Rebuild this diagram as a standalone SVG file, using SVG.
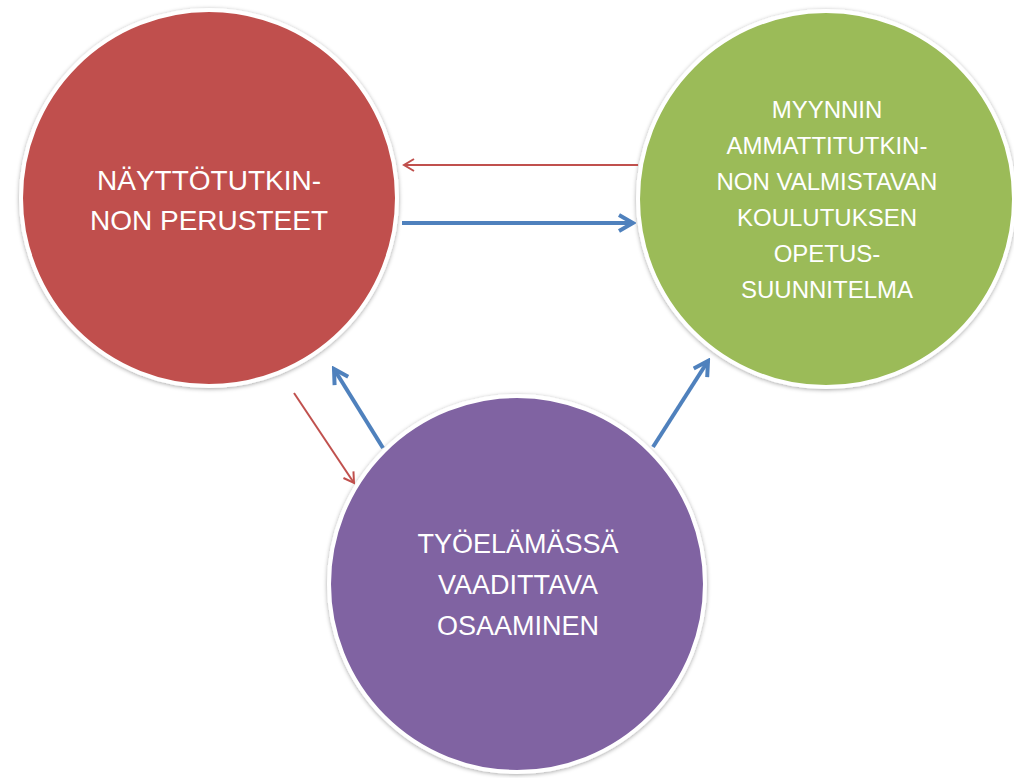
<svg xmlns="http://www.w3.org/2000/svg" width="1014" height="778" viewBox="0 0 1014 778">
<style>
.node circle{stroke:#ffffff;stroke-width:4;filter:url(#sh)}
.lbl{font-family:"Liberation Sans",Arial,sans-serif;fill:#ffffff;text-anchor:middle}
.red{stroke:#C0504D;stroke-width:2;fill:none}
.blue{stroke:#4F81BD;stroke-width:4;fill:none}
</style>
<defs>
<filter id="sh" x="-10%" y="-10%" width="120%" height="120%">
<feDropShadow dx="0" dy="1" stdDeviation="2" flood-color="#000000" flood-opacity="0.35"/>
</filter>
<marker id="ar" viewBox="0 0 14 14" refX="12" refY="7" markerWidth="14" markerHeight="14" markerUnits="userSpaceOnUse" orient="auto">
<path d="M2,1 L12,7 L2,13" fill="none" stroke="#C0504D" stroke-width="2"/>
</marker>
<marker id="ab" viewBox="0 0 20 20" refX="17" refY="10" markerWidth="20" markerHeight="20" markerUnits="userSpaceOnUse" orient="auto">
<path d="M3,2 L17,10 L3,18" fill="none" stroke="#4F81BD" stroke-width="4"/>
</marker>
</defs>
<rect width="1014" height="778" fill="#ffffff"/>
<g id="n1" class="node">
<circle cx="209" cy="198" r="188" fill="#C0504D"/>
<text class="lbl" font-size="28"><tspan x="209" y="190">NÄYTTÖTUTKIN-</tspan><tspan x="209" y="230">NON PERUSTEET</tspan></text>
</g>
<g id="n2" class="node">
<circle cx="826" cy="199" r="188" fill="#9BBB59"/>
<text class="lbl" font-size="24"><tspan x="827" y="118">MYYNNIN</tspan><tspan x="827" y="154">AMMATTITUTKIN-</tspan><tspan x="827" y="190">NON VALMISTAVAN</tspan><tspan x="827" y="226">KOULUTUKSEN</tspan><tspan x="827" y="262">OPETUS-</tspan><tspan x="827" y="298">SUUNNITELMA</tspan></text>
</g>
<g id="n3" class="node">
<circle cx="517" cy="584" r="188" fill="#8064A2"/>
<text class="lbl" font-size="27"><tspan x="518" y="553">TYÖELÄMÄSSÄ</tspan><tspan x="518" y="594">VAADITTAVA</tspan><tspan x="518" y="635">OSAAMINEN</tspan></text>
</g>
<g id="connectors">
<line class="red" x1="638" y1="165" x2="404" y2="165" marker-end="url(#ar)"/>
<line class="blue" x1="402" y1="223" x2="633" y2="223" marker-end="url(#ab)"/>
<line class="blue" x1="383" y1="448" x2="334" y2="369" marker-end="url(#ab)"/>
<line class="red" x1="294" y1="393" x2="354" y2="483" marker-end="url(#ar)"/>
<line class="blue" x1="653" y1="447" x2="708" y2="361" marker-end="url(#ab)"/>
</g>
</svg>
